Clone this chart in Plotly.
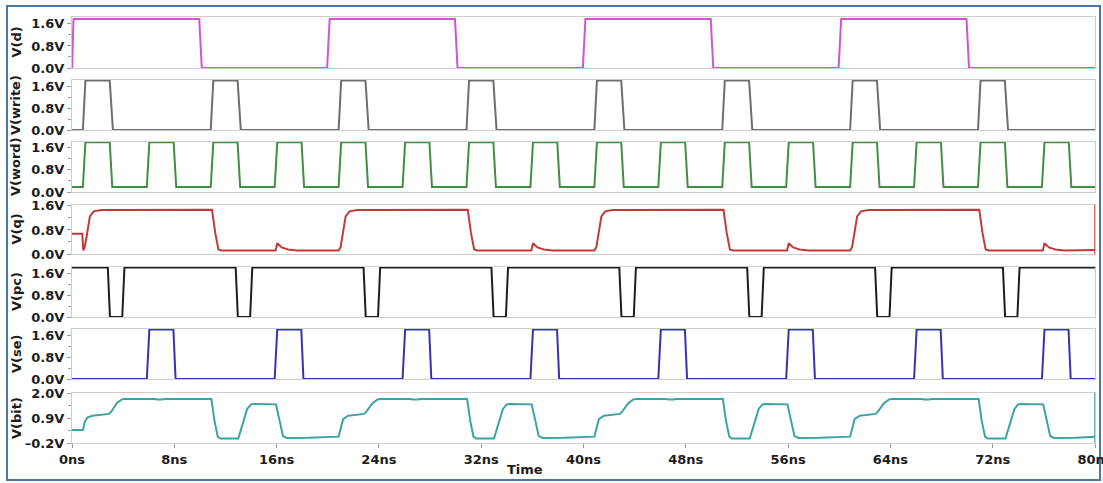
import plotly.graph_objects as go

W, H = 1103, 483

# ---------------- data (time in ns, volts) ----------------
d_t = [0, 0.12, 9.95, 10.15, 19.95, 20.15, 29.95, 30.15, 39.95, 40.15, 49.95, 50.15,
       59.95, 60.15, 69.95, 70.15, 80]
d_v = [0, 1.78, 1.78, 0, 0, 1.78, 1.78, 0, 0, 1.78, 1.78, 0, 0, 1.78, 1.78, 0, 0]

write_t = [0, 0.85, 1.05, 2.95, 3.2, 10.85, 11.05, 12.95, 13.2, 20.85, 21.05, 22.95, 23.2,
           30.85, 31.05, 32.95, 33.2, 40.85, 41.05, 42.95, 43.2, 50.85, 51.05, 52.95, 53.2,
           60.85, 61.05, 62.95, 63.2, 70.85, 71.05, 72.95, 73.2, 80]
write_v = [0, 0, 1.8, 1.8, 0, 0, 1.8, 1.8, 0, 0, 1.8, 1.8, 0, 0, 1.8, 1.8, 0, 0, 1.8, 1.8, 0,
           0, 1.8, 1.8, 0, 0, 1.8, 1.8, 0, 0, 1.8, 1.8, 0, 0]

word_t = [0, 0.85, 1.05, 2.95, 3.15, 5.85, 6.05, 7.95, 8.15, 10.85, 11.05, 12.95, 13.15,
          15.85, 16.05, 17.95, 18.15, 20.85, 21.05, 22.95, 23.15, 25.85, 26.05, 27.95, 28.15,
          30.85, 31.05, 32.95, 33.15, 35.85, 36.05, 37.95, 38.15, 40.85, 41.05, 42.95, 43.15,
          45.85, 46.05, 47.95, 48.15, 50.85, 51.05, 52.95, 53.15, 55.85, 56.05, 57.95, 58.15,
          60.85, 61.05, 62.95, 63.15, 65.85, 66.05, 67.95, 68.15, 70.85, 71.05, 72.95, 73.15,
          75.85, 76.05, 77.95, 78.15, 80]
word_v = [0.18, 0.18, 1.77, 1.77, 0.18, 0.18, 1.77, 1.77, 0.18, 0.18, 1.77, 1.77, 0.18,
          0.18, 1.77, 1.77, 0.18, 0.18, 1.77, 1.77, 0.18, 0.18, 1.77, 1.77, 0.18,
          0.18, 1.77, 1.77, 0.18, 0.18, 1.77, 1.77, 0.18, 0.18, 1.77, 1.77, 0.18,
          0.18, 1.77, 1.77, 0.18, 0.18, 1.77, 1.77, 0.18, 0.18, 1.77, 1.77, 0.18,
          0.18, 1.77, 1.77, 0.18, 0.18, 1.77, 1.77, 0.18, 0.18, 1.77, 1.77, 0.18,
          0.18, 1.77, 1.77, 0.18, 0.18]

q_t = [0, 0.8, 0.88, 0.98, 1.15, 1.4, 1.7, 2.3, 10.95, 11.2, 11.45, 11.7,
       15.92, 16.05, 16.4, 16.9, 17.6,
       20.85, 21.0, 21.15, 21.4, 21.7, 22.3, 30.95, 31.2, 31.45, 31.7,
       35.92, 36.05, 36.4, 36.9, 37.6,
       40.85, 41.0, 41.15, 41.4, 41.7, 42.3, 50.95, 51.2, 51.45, 51.7,
       55.92, 56.05, 56.4, 56.9, 57.6,
       60.85, 61.0, 61.15, 61.4, 61.7, 62.3, 70.95, 71.2, 71.45, 71.7,
       75.92, 76.05, 76.4, 76.9, 77.6, 80]
q_v = [0.67, 0.67, 0.12, 0.2, 0.6, 1.25, 1.42, 1.46, 1.47, 0.7, 0.15, 0.12,
       0.12, 0.36, 0.22, 0.15, 0.12,
       0.12, 0.22, 0.6, 1.25, 1.42, 1.46, 1.47, 0.7, 0.15, 0.12,
       0.12, 0.36, 0.22, 0.15, 0.12,
       0.12, 0.22, 0.6, 1.25, 1.42, 1.46, 1.47, 0.7, 0.15, 0.12,
       0.12, 0.36, 0.22, 0.15, 0.12,
       0.12, 0.22, 0.6, 1.25, 1.42, 1.46, 1.47, 0.7, 0.15, 0.12,
       0.12, 0.36, 0.22, 0.15, 0.12, 0.13]

pc_t = [0, 2.8, 2.97, 3.93, 4.1, 12.8, 12.97, 13.93, 14.1, 22.8, 22.97, 23.93, 24.1,
        32.8, 32.97, 33.93, 34.1, 42.8, 42.97, 43.93, 44.1, 52.8, 52.97, 53.93, 54.1,
        62.8, 62.97, 63.93, 64.1, 72.8, 72.97, 73.93, 74.1, 80]
pc_v = [1.8, 1.8, 0, 0, 1.8, 1.8, 0, 0, 1.8, 1.8, 0, 0, 1.8, 1.8, 0, 0, 1.8, 1.8, 0, 0, 1.8,
        1.8, 0, 0, 1.8, 1.8, 0, 0, 1.8, 1.8, 0, 0, 1.8, 1.8]

se_t = [0, 5.85, 6.05, 7.93, 8.1, 15.85, 16.05, 17.93, 18.1, 25.85, 26.05, 27.93, 28.1,
        35.85, 36.05, 37.93, 38.1, 45.85, 46.05, 47.93, 48.1, 55.85, 56.05, 57.93, 58.1,
        65.85, 66.05, 67.93, 68.1, 75.85, 76.05, 77.93, 78.1, 80]
se_v = [0, 0, 1.8, 1.8, 0, 0, 1.8, 1.8, 0, 0, 1.8, 1.8, 0, 0, 1.8, 1.8, 0, 0, 1.8, 1.8, 0,
        0, 1.8, 1.8, 0, 0, 1.8, 1.8, 0, 0, 1.8, 1.8, 0, 0]

bit_t = [0, 0.85, 1.0, 1.2, 1.6, 2.9, 3.1, 3.5, 3.9, 4.1, 6.5, 6.6, 7.1, 7.2,
         10.9, 11.15, 11.4, 11.6, 13.0, 13.3, 13.7, 14.0, 14.2, 15.95, 16.2, 16.5, 16.8, 18.5,
         20.85, 21.0, 21.2, 21.6, 22.85, 23.05, 23.5, 23.9, 24.1, 26.5, 26.6, 27.1, 27.2,
         30.9, 31.15, 31.4, 31.6, 33.0, 33.3, 33.7, 34.0, 34.2, 35.95, 36.2, 36.5, 36.8, 38.5,
         40.85, 41.0, 41.2, 41.6, 42.85, 43.05, 43.5, 43.9, 44.1, 46.5, 46.6, 47.1, 47.2,
         50.9, 51.15, 51.4, 51.6, 53.0, 53.3, 53.7, 54.0, 54.2, 55.95, 56.2, 56.5, 56.8, 58.5,
         60.85, 61.0, 61.2, 61.6, 62.85, 63.05, 63.5, 63.9, 64.1, 66.5, 66.6, 67.1, 67.2,
         70.9, 71.15, 71.4, 71.6, 73.0, 73.3, 73.7, 74.0, 74.2, 75.95, 76.2, 76.5, 76.8, 78.5,
         80]
bit_v = [0.37, 0.37, 0.72, 0.92, 1.0, 1.08, 1.2, 1.55, 1.72, 1.74, 1.74, 1.71, 1.71, 1.74,
         1.74, 0.75, 0.08, 0.0, 0.0, 0.6, 1.3, 1.5, 1.52, 1.5, 0.8, 0.1, 0.02, 0.03,
         0.08, 0.4, 0.85, 1.0, 1.08, 1.2, 1.55, 1.72, 1.74, 1.74, 1.71, 1.71, 1.74,
         1.74, 0.75, 0.08, 0.0, 0.0, 0.6, 1.3, 1.5, 1.52, 1.5, 0.8, 0.1, 0.02, 0.03,
         0.08, 0.4, 0.85, 1.0, 1.08, 1.2, 1.55, 1.72, 1.74, 1.74, 1.71, 1.71, 1.74,
         1.74, 0.75, 0.08, 0.0, 0.0, 0.6, 1.3, 1.5, 1.52, 1.5, 0.8, 0.1, 0.02, 0.03,
         0.08, 0.4, 0.85, 1.0, 1.08, 1.2, 1.55, 1.72, 1.74, 1.74, 1.71, 1.71, 1.74,
         1.74, 0.75, 0.08, 0.0, 0.0, 0.6, 1.3, 1.5, 1.52, 1.5, 0.8, 0.1, 0.02, 0.03,
         0.08]

signal_names = ["V(d)", "V(write)", "V(word)", "V(q)", "V(pc)", "V(se)", "V(bit)"]
signal_colors = ["#d352d3", "#6e6e6e", "#3f8f3f", "#c23a3a", "#1e1e1e", "#3434b0", "#3aa3a3"]
y_ranges = [[0, 1.85], [0, 1.82], [0, 1.78], [0, 1.63], [0, 1.82], [0, 1.82], [-0.2, 2.0]]
y_tickvals = [[0, 0.8, 1.6]] * 6 + [[-0.2, 0.9, 2.0]]
y_ticktext = [["0.0V", "0.8V", "1.6V"]] * 6 + [["\u20130.2V", "0.9V", "2.0V"]]
y_minor = [[0.4, 1.2]] * 6 + [[0.35, 1.45]]
# panels whose right frame edge is drawn in the trace colour (as in the screenshot)
colored_right_edge = [False, False, False, True, False, False, True]

x_tickvals = [0, 8, 16, 24, 32, 40, 48, 56, 64, 72, 80]
x_ticktext = ["0ns", "8ns", "16ns", "24ns", "32ns", "40ns", "48ns", "56ns", "64ns", "72ns", "80ns"]

series = [(d_t, d_v), (write_t, write_v), (word_t, word_v), (q_t, q_v),
          (pc_t, pc_v), (se_t, se_v), (bit_t, bit_v)]

# ---------------- layout geometry (pixels) ----------------
panel_px = [(17, 68), (80, 130), (142, 192), (205, 254), (267, 317), (329, 379), (393, 443)]
x_left, x_right = 72, 1095

FONT = "DejaVu Sans"
TXT = "#1c1c1c"

fig = go.Figure()
layout = dict(
    width=W, height=H, margin=dict(l=0, r=0, t=0, b=0, autoexpand=False),
    paper_bgcolor="white", plot_bgcolor="white", showlegend=False,
    font=dict(family=FONT, size=12, color=TXT),
)
annotations = []
shapes = [dict(type="rect", xref="paper", yref="paper",
               x0=7 / W, x1=1100 / W, y0=1 - 480 / H, y1=1 - 6 / H,
               line=dict(color="#4a78a6", width=2), layer="below")]
for i, ((tt, vv), name, col) in enumerate(zip(series, signal_names, signal_colors)):
    n = i + 1
    xa = "x" if n == 1 else f"x{n}"
    ya = "y" if n == 1 else f"y{n}"
    fig.add_trace(go.Scatter(x=tt, y=vv, mode="lines", xaxis=xa, yaxis=ya,
                             line=dict(color=col, width=2), hoverinfo="skip"))
    top, bot = panel_px[i]
    last = n == 7
    layout["xaxis" if n == 1 else f"xaxis{n}"] = dict(
        domain=[x_left / W, x_right / W], range=[0, 80], anchor=ya, automargin=False,
        showline=True, mirror=True, linecolor="#cdcdcd", linewidth=1,
        showgrid=False, zeroline=False,
        tickvals=x_tickvals, ticktext=x_ticktext, ticklabeloverflow="allow",
        showticklabels=last, ticks="outside" if last else "", ticklen=4,
        tickcolor="#9a9a9a",
        tickfont=dict(family=FONT, size=13, color=TXT, weight="bold"),
    )
    layout["yaxis" if n == 1 else f"yaxis{n}"] = dict(
        domain=[1 - bot / H, 1 - top / H], range=y_ranges[i], anchor=xa, automargin=False,
        showline=True, mirror=True, linecolor="#cdcdcd", linewidth=1,
        showgrid=False, zeroline=False,
        tickvals=y_tickvals[i], ticktext=y_ticktext[i],
        ticks="outside", ticklen=4, tickcolor="#9a9a9a",
        minor=dict(tickvals=y_minor[i], ticks="outside", ticklen=3, tickcolor="#9a9a9a"),
        tickfont=dict(family=FONT, size=13, color=TXT, weight="bold"),
    )
    annotations.append(dict(
        text=f"<b>{name}</b>", xref="paper", yref="paper",
        x=16 / W, y=1 - (top + bot) / 2 / H, textangle=-90, showarrow=False,
        font=dict(family=FONT, size=13, color=TXT), xanchor="center", yanchor="middle",
    ))
    if colored_right_edge[i]:
        shapes.append(dict(type="line", xref=xa, yref=f"{ya} domain",
                           x0=80, x1=80, y0=0, y1=1,
                           line=dict(color=col, width=1.5)))

annotations.append(dict(text="<b>Time</b>", xref="paper", yref="paper",
                        x=525 / W, y=1 - 469 / H, showarrow=False,
                        font=dict(family=FONT, size=13, color=TXT),
                        xanchor="center", yanchor="middle"))
layout["annotations"] = annotations
layout["shapes"] = shapes
fig.update_layout(**layout)
fig.write_html("out.html")
